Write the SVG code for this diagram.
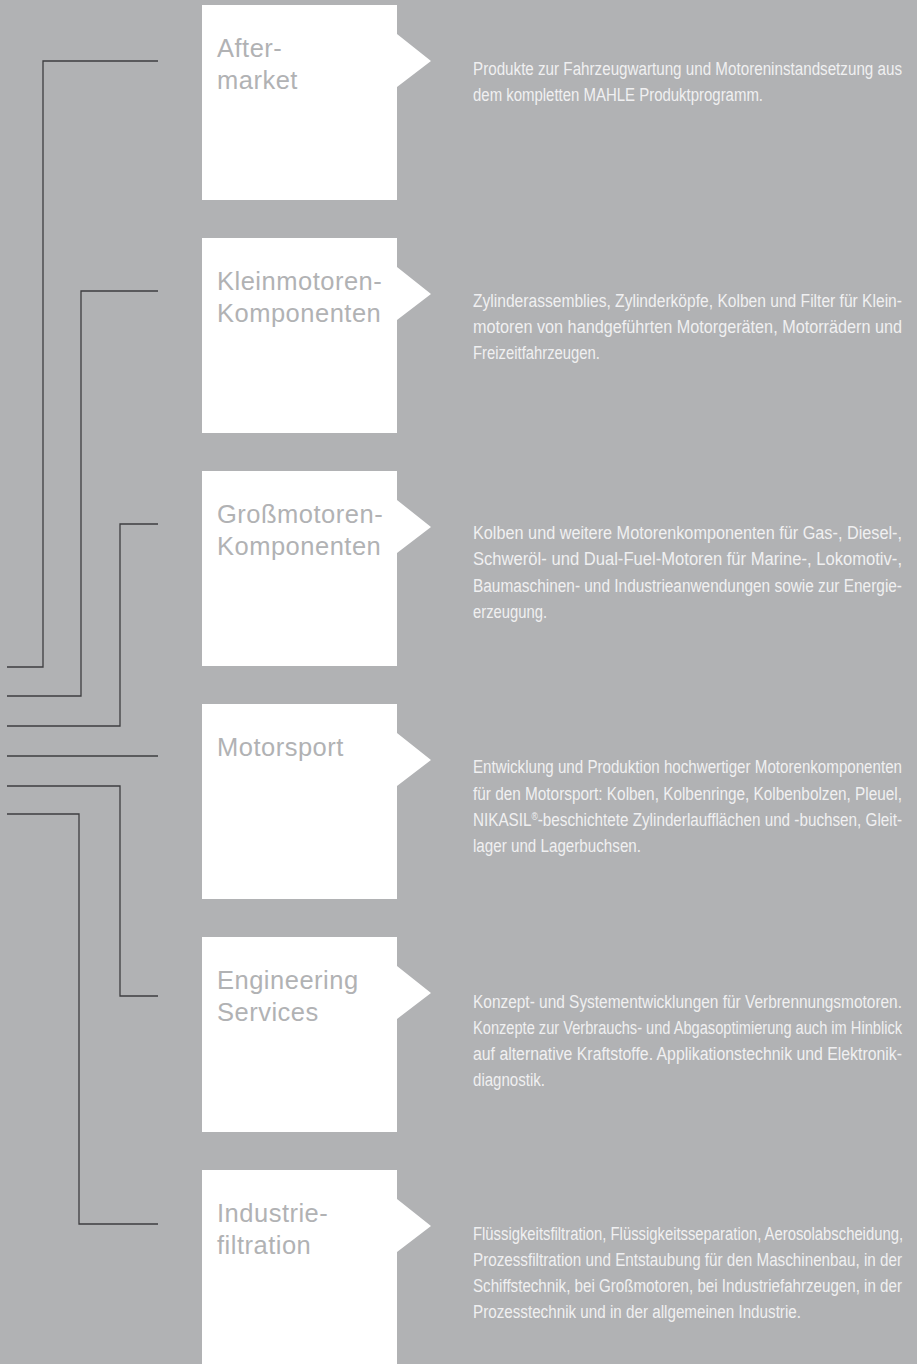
<svg xmlns="http://www.w3.org/2000/svg" width="917" height="1364" viewBox="0 0 917 1364">
<style>
.bg{fill:#b1b2b4}
.box{fill:#ffffff}
.lbl{font-family:"Liberation Sans",Arial,sans-serif;font-size:25.5px;letter-spacing:0.5px;fill:#b1b2b4}
.desc{font-family:"Liberation Sans Narrow","Liberation Sans",sans-serif;font-size:18px;fill:#f0f0f1}
.con{fill:none;stroke:#3e3e40;stroke-width:1.3}
</style>
<rect class="bg" x="0" y="0" width="917" height="1364"/>
<g id="connectors">
<path class="con" d="M158,61 H43 V667 H7"/>
<path class="con" d="M158,291 H81 V696 H7"/>
<path class="con" d="M158,524 H120 V726 H7"/>
<path class="con" d="M7,756 H158"/>
<path class="con" d="M7,786 H120 V996 H158"/>
<path class="con" d="M7,814 H79 V1224 H158"/>
</g>
<g id="aftermarket">
<path class="box" d="M202,5 H397 V34 L431,61 L397,87 V200 H202 Z"/>
<text class="lbl" x="217" y="57">After-</text>
<text class="lbl" x="217" y="89">market</text>
<text class="desc" x="473" y="75" textLength="429" lengthAdjust="spacingAndGlyphs">Produkte zur Fahrzeugwartung und Motoreninstandsetzung aus</text>
<text class="desc" x="473" y="101" textLength="290" lengthAdjust="spacingAndGlyphs">dem kompletten MAHLE Produktprogramm.</text>
</g>
<g id="kleinmotoren">
<path class="box" d="M202,238 H397 V267 L431,294 L397,320 V433 H202 Z"/>
<text class="lbl" x="217" y="290">Kleinmotoren-</text>
<text class="lbl" x="217" y="322">Komponenten</text>
<text class="desc" x="473" y="307" textLength="429" lengthAdjust="spacingAndGlyphs">Zylinderassemblies, Zylinderköpfe, Kolben und Filter für Klein-</text>
<text class="desc" x="473" y="333" textLength="429" lengthAdjust="spacingAndGlyphs">motoren von handgeführten Motorgeräten, Motorrädern und</text>
<text class="desc" x="473" y="359" textLength="127" lengthAdjust="spacingAndGlyphs">Freizeitfahrzeugen.</text>
</g>
<g id="grossmotoren">
<path class="box" d="M202,471 H397 V500 L431,527 L397,553 V666 H202 Z"/>
<text class="lbl" x="217" y="523">Großmotoren-</text>
<text class="lbl" x="217" y="555">Komponenten</text>
<text class="desc" x="473" y="539" textLength="429" lengthAdjust="spacingAndGlyphs">Kolben und weitere Motorenkomponenten für Gas-, Diesel-,</text>
<text class="desc" x="473" y="565" textLength="429" lengthAdjust="spacingAndGlyphs">Schweröl- und Dual-Fuel-Motoren für Marine-, Lokomotiv-,</text>
<text class="desc" x="473" y="592" textLength="429" lengthAdjust="spacingAndGlyphs">Baumaschinen- und Industrieanwendungen sowie zur Energie-</text>
<text class="desc" x="473" y="618" textLength="74" lengthAdjust="spacingAndGlyphs">erzeugung.</text>
</g>
<g id="motorsport">
<path class="box" d="M202,704 H397 V733 L431,760 L397,786 V899 H202 Z"/>
<text class="lbl" x="217" y="756">Motorsport</text>
<text class="desc" x="473" y="773" textLength="429" lengthAdjust="spacingAndGlyphs">Entwicklung und Produktion hochwertiger Motorenkomponenten</text>
<text class="desc" x="473" y="800" textLength="429" lengthAdjust="spacingAndGlyphs">für den Motorsport: Kolben, Kolbenringe, Kolbenbolzen, Pleuel,</text>
<text class="desc" x="473" y="826" textLength="429" lengthAdjust="spacingAndGlyphs">NIKASIL<tspan font-size="10" dy="-6">®</tspan><tspan dy="6">-beschichtete Zylinderlaufflächen und -buchsen, Gleit-</tspan></text>
<text class="desc" x="473" y="852" textLength="168" lengthAdjust="spacingAndGlyphs">lager und Lagerbuchsen.</text>
</g>
<g id="engineering">
<path class="box" d="M202,937 H397 V966 L431,993 L397,1019 V1132 H202 Z"/>
<text class="lbl" x="217" y="989">Engineering</text>
<text class="lbl" x="217" y="1021">Services</text>
<text class="desc" x="473" y="1008" textLength="429" lengthAdjust="spacingAndGlyphs">Konzept- und Systementwicklungen für Verbrennungsmotoren.</text>
<text class="desc" x="473" y="1034" textLength="429" lengthAdjust="spacingAndGlyphs">Konzepte zur Verbrauchs- und Abgasoptimierung auch im Hinblick</text>
<text class="desc" x="473" y="1060" textLength="429" lengthAdjust="spacingAndGlyphs">auf alternative Kraftstoffe. Applikationstechnik und Elektronik-</text>
<text class="desc" x="473" y="1086" textLength="72" lengthAdjust="spacingAndGlyphs">diagnostik.</text>
</g>
<g id="industriefiltration">
<path class="box" d="M202,1170 H397 V1199 L431,1226 L397,1252 V1364 H202 Z"/>
<text class="lbl" x="217" y="1222">Industrie-</text>
<text class="lbl" x="217" y="1254">filtration</text>
<text class="desc" x="473" y="1240" textLength="430" lengthAdjust="spacingAndGlyphs">Flüssigkeitsfiltration, Flüssigkeitsseparation, Aerosolabscheidung,</text>
<text class="desc" x="473" y="1266" textLength="429" lengthAdjust="spacingAndGlyphs">Prozessfiltration und Entstaubung für den Maschinenbau, in der</text>
<text class="desc" x="473" y="1292" textLength="429" lengthAdjust="spacingAndGlyphs">Schiffstechnik, bei Großmotoren, bei Industriefahrzeugen, in der</text>
<text class="desc" x="473" y="1318" textLength="328" lengthAdjust="spacingAndGlyphs">Prozesstechnik und in der allgemeinen Industrie.</text>
</g>
</svg>
